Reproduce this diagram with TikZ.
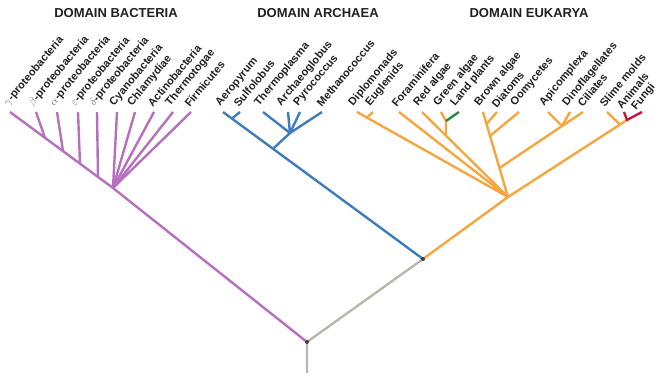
\documentclass[tikz,border=0pt]{standalone}
\usepackage{fontspec}
\setmainfont{Liberation Sans}
\usetikzlibrary{calc}
\definecolor{bact}{RGB}{182,112,190}
\definecolor{arch}{RGB}{62,124,192}
\definecolor{euk}{RGB}{246,166,62}
\definecolor{stem}{RGB}{186,182,172}
\definecolor{plant}{RGB}{40,140,60}
\definecolor{animal}{RGB}{200,22,62}
\definecolor{labc}{RGB}{35,31,32}
\newcommand{\grk}[1]{\textcolor{black!55}{$#1$}}
\begin{document}
\begin{tikzpicture}[x=1pt,y=-1pt,
  lab/.style={font=\bfseries\fontsize{11}{11}\selectfont, text=labc, rotate=50, anchor=south west, inner sep=0pt},
  head/.style={font=\bfseries\fontsize{13}{13}\selectfont, text=labc, inner sep=0pt},
  br/.style={line width=2.4pt, line join=round},
  pur/.style={br, draw=bact},
  blu/.style={br, draw=arch},
  ora/.style={br, draw=euk},
  gry/.style={br, draw=stem},
  dot/.style={circle, fill=black!75, inner sep=0pt, minimum size=4pt}]
\useasboundingbox (0,0) rectangle (665,379);

% headers
\node[head] (hb) at (116,13) {DOMAIN BACTERIA};
\node[head] (ha) at (318,13) {DOMAIN ARCHAEA};
\node[head] (he) at (529,13) {DOMAIN EUKARYA};

% ---------- coordinates ----------
\coordinate (root) at (307,342);
\coordinate (base) at (307,373);
\coordinate (AE) at (423,259);
\coordinate (E) at (508,197);
% bacteria tips
\coordinate (tg) at (10,112);
\coordinate (tb) at (36,112);
\coordinate (ta) at (57,112);
\coordinate (te) at (78,112);
\coordinate (td) at (97,112);
\coordinate (tcy) at (117,112);
\coordinate (tch) at (135,112);
\coordinate (tac) at (154,112);
\coordinate (tth) at (173,112);
\coordinate (tfi) at (191,112);
\coordinate (bM) at (113,188);
\coordinate (jb) at (45,138);
\coordinate (ja) at (63,151);
\coordinate (je) at (80,164);
\coordinate (jd) at (98,177);
% archaea
\coordinate (tae) at (223,112);
\coordinate (tsu) at (240,112);
\coordinate (ttp) at (263,112);
\coordinate (tag) at (288,112);
\coordinate (tpy) at (300,112);
\coordinate (tme) at (322,112);
\coordinate (jsu) at (232,118.6);
\coordinate (an) at (290,133);
\coordinate (jan) at (273,148.8);
% eukarya
\coordinate (tdi) at (357,112);
\coordinate (teu) at (373,112);
\coordinate (tfo) at (399,112);
\coordinate (tra) at (422,112);
\coordinate (tga) at (441,112);
\coordinate (tlp) at (459,112);
\coordinate (tba) at (483,112);
\coordinate (tdt) at (497,112);
\coordinate (too) at (519,112);
\coordinate (tap) at (548,112);
\coordinate (tdf) at (570,112);
\coordinate (tci) at (583,112);
\coordinate (tsm) at (607,112);
\coordinate (tan) at (624,112);
\coordinate (tfu) at (642,112);
\coordinate (jeu) at (367,117.6);
\coordinate (gn) at (446,121);
\coordinate (jg) at (446,135.7);
\coordinate (jdt) at (486.5,124);
\coordinate (joo) at (490,136);
\coordinate (jci) at (499.5,168);
\coordinate (apn) at (562,126);
\coordinate (fn) at (627,120);
\coordinate (jsm) at (620,124.5);

% ---------- branches ----------
\draw[gry] (base) -- (root) -- (AE);
% bacteria
\draw[pur] (tg) -- (bM) -- (root);
\draw[pur] (tb) -- (jb);
\draw[pur] (ta) -- (ja);
\draw[pur] (te) -- (je);
\draw[pur] (td) -- (jd);
\draw[pur] (tcy) -- (bM);
\draw[pur] (tch) -- (bM);
\draw[pur] (tac) -- (bM);
\draw[pur] (tth) -- (bM);
\draw[pur] (tfi) -- (bM);
% archaea
\draw[blu] (tae) -- (AE);
\draw[blu] (tsu) -- (jsu);
\draw[blu] (ttp) -- (an);
\draw[blu] (tag) -- (an);
\draw[blu] (tpy) -- (an);
\draw[blu] (tme) -- (an) -- (jan);
% eukarya
\draw[ora] (AE) -- (E);
\draw[ora] (tdi) -- (E);
\draw[ora] (teu) -- (jeu);
\draw[ora] (tfo) -- (E);
\draw[ora] (tra) -- (E);
\draw[ora] (tga) -- (gn) -- (jg);
\draw[br, draw=plant] (tlp) -- (gn);
\draw[ora] (tba) -- (E);
\draw[ora] (tdt) -- (jdt);
\draw[ora] (too) -- (joo);
\draw[ora] (tci) -- (jci);
\draw[ora] (tap) -- (apn);
\draw[ora] (tdf) -- (apn);
\draw[ora] (tsm) -- (jsm);
\draw[ora] (E) -- (fn);
\draw[br, draw=animal] (tan) -- (fn) -- (tfu);

% dots
\node[dot] (rootdot) at (root) {};
\node[dot] (aedot) at (AE) {};

% ---------- labels ----------
\node[lab] (lg) at ($(tg)+(0,-4)$) {\grk{\gamma}-proteobacteria};
\node[lab] (lb) at ($(tb)+(-1,-4)$) {\grk{\beta}-proteobacteria};
\node[lab] (la) at ($(ta)+(-1,-4)$) {\grk{\alpha}-proteobacteria};
\node[lab] (le) at ($(te)+(-1,-4)$) {\grk{\varepsilon}-proteobacteria};
\node[lab] (ld) at ($(td)+(-1,-4)$) {\grk{\delta}-proteobacteria};
\node[lab] (lcy) at ($(tcy)+(-1,-4)$) {Cyanobacteria};
\node[lab] (lch) at ($(tch)+(-1,-4)$) {Chlamydiae};
\node[lab] (lac) at ($(tac)+(-1,-4)$) {Actinobacteria};
\node[lab] (lth) at ($(tth)+(-1,-4)$) {Thermotogae};
\node[lab] (lfi) at ($(tfi)+(-1,-4)$) {Firmicutes};
\node[lab] (lae) at ($(tae)+(-1,-4)$) {Aeropyrum};
\node[lab] (lsu) at ($(tsu)+(-1,-4)$) {Sulfolobus};
\node[lab] (ltp) at ($(ttp)+(-2,-4)$) {Thermoplasma};
\node[lab] (lag) at ($(tag)+(-5,-4)$) {Archaeoglobus};
\node[lab] (lpy) at ($(tpy)+(0,-4)$) {Pyrococcus};
\node[lab] (lme) at ($(tme)+(0,-4)$) {Methanococcus};
\node[lab] (ldi) at ($(tdi)+(-2,-4)$) {Diplomonads};
\node[lab] (leu) at ($(teu)+(-1,-4)$) {Euglenids};
\node[lab] (lfo) at ($(tfo)+(-2,-4)$) {Foraminifera};
\node[lab] (lra) at ($(tra)+(-2,-4)$) {Red algae};
\node[lab] (lga) at ($(tga)+(-1,-4)$) {Green algae};
\node[lab] (llp) at ($(tlp)+(-2,-4)$) {Land plants};
\node[lab] (lba) at ($(tba)+(-2,-4)$) {Brown algae};
\node[lab] (ldt) at ($(tdt)+(0,-3)$) {Diatoms};
\node[lab] (loo) at ($(too)+(-2,-4)$) {Oomycetes};
\node[lab] (lap) at ($(tap)+(-2,-4)$) {Apicomplexa};
\node[lab] (ldf) at ($(tdf)+(-1,-4)$) {Dinoflagellates};
\node[lab] (lci) at ($(tci)+(0,-4)$) {Ciliates};
\node[lab] (lsm) at ($(tsm)+(-2,-4)$) {Slime molds};
\node[lab] (lan) at ($(tan)+(-2,-2)$) {Animals};
\node[lab] (lfu) at ($(tfu)+(-4,0)$) {Fungi};
\end{tikzpicture}
\end{document}
